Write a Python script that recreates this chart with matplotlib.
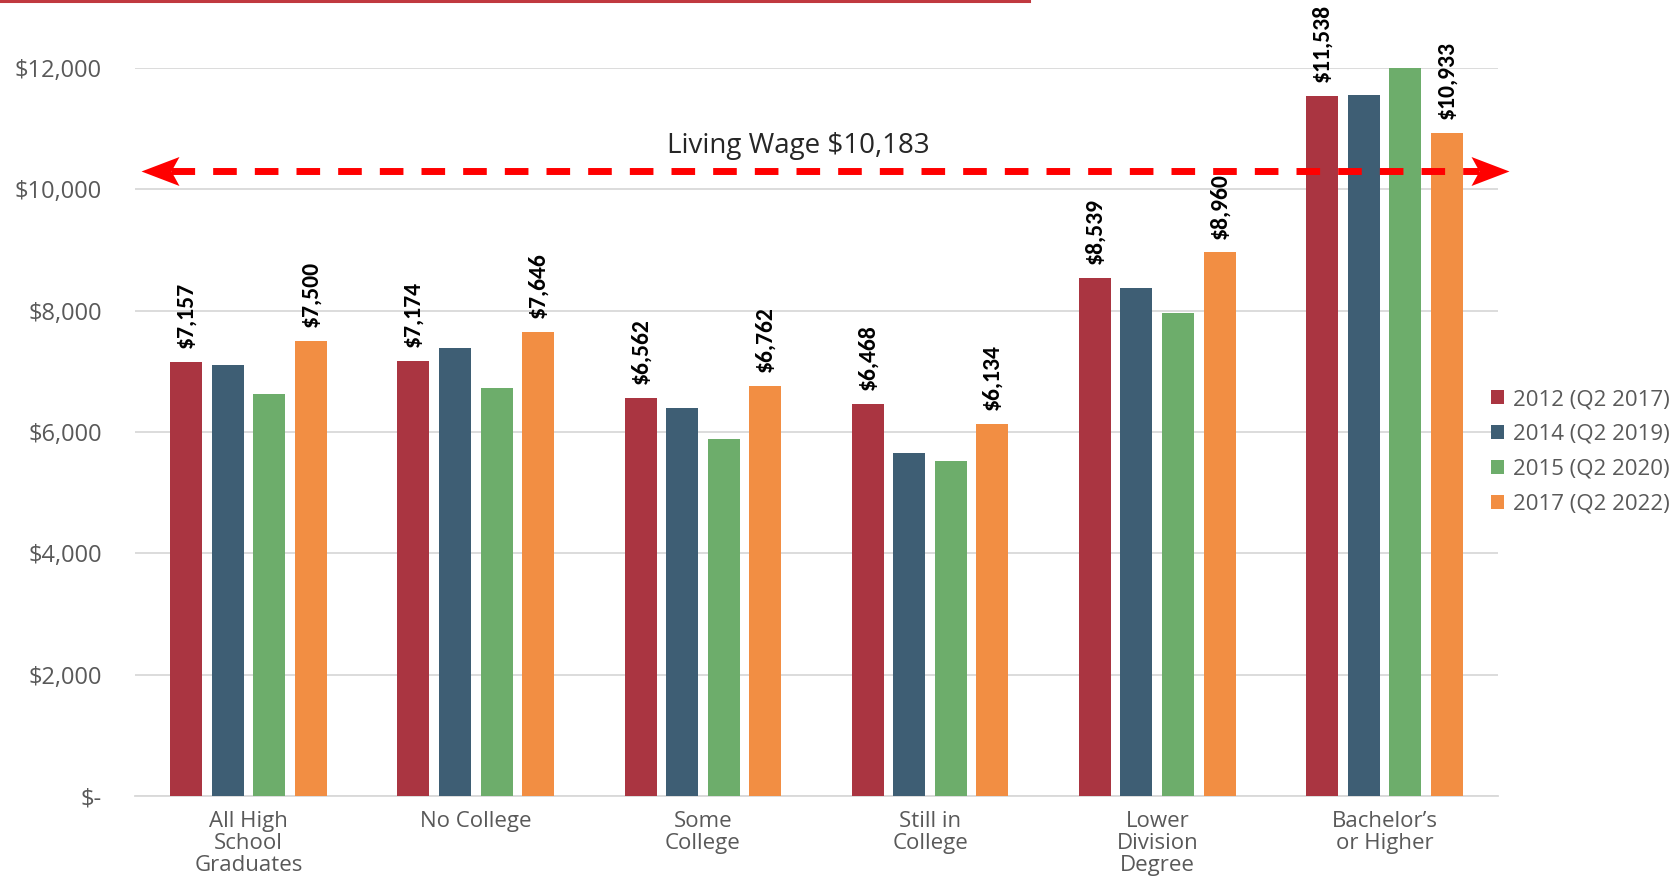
import matplotlib
matplotlib.use("Agg")
import matplotlib.pyplot as plt
from matplotlib.path import Path
import numpy as np

categories = ["All High\nSchool\nGraduates", "No College", "Some\nCollege",
              "Still in\nCollege", "Lower\nDivision\nDegree", "Bachelor\u2019s\nor Higher"]
series_names = ["2012 (Q2 2017)", "2014 (Q2 2019)", "2015 (Q2 2020)", "2017 (Q2 2022)"]
s2012 = [7157, 7174, 6562, 6468, 8539, 11538]
s2014 = [7110, 7390, 6400, 5650, 8375, 11560]
s2015 = [6630, 6720, 5880, 5525, 7970, 12000]
s2017 = [7500, 7646, 6762, 6134, 8960, 10933]
labeled = [True, False, False, True]
yticks = [0, 2000, 4000, 6000, 8000, 10000, 12000]
ytick_labels = ["$-", "$2,000", "$4,000", "$6,000", "$8,000", "$10,000", "$12,000"]
living_wage = 10183
living_wage_line = 10300
colors = ["#AA3541", "#3E5E74", "#6DAD6B", "#F28E43"]

series = [s2012, s2014, s2015, s2017]

label_font = ["Carlito", "Asap Condensed", "Archivo Narrow", "Open Sans"]
text_font = ["Open Sans", "DejaVu Sans"]
gray = "#595959"

fig = plt.figure(figsize=(16.73, 8.84), dpi=100)
ax = fig.add_axes([0.0807, 0.0995, 0.8147, 0.8235])

x = np.arange(len(categories))
width = 0.141
step = 0.183
for i, (vals, c) in enumerate(zip(series, colors)):
    pos = x + (i - 1.5) * step
    ax.bar(pos, vals, width, color=c, label=series_names[i], zorder=3, clip_on=False)
    if labeled[i]:
        for p, v in zip(pos, vals):
            ax.text(p, v + 230, f"${v:,}", rotation=90, ha="center", va="bottom",
                    fontsize=17, fontweight="bold", family=label_font, color="black")

ax.set_xlim(-0.5, 5.5)
ax.set_ylim(0, 12000)
ax.set_yticks(yticks)
ax.set_yticklabels(ytick_labels, family=text_font, fontsize=17, color=gray)
ax.set_xticks(x)
ax.set_xticklabels(categories, family=text_font, fontsize=16, color=gray, linespacing=1.05)
ax.tick_params(axis="both", length=0)
ax.tick_params(axis="y", pad=24)
ax.tick_params(axis="x", pad=11)
ax.grid(axis="y", color="#D9D9D9", linewidth=1.3, zorder=0)
for s in ["top", "right", "left"]:
    ax.spines[s].set_visible(False)
ax.spines["bottom"].set_color("#D9D9D9")
ax.spines["bottom"].set_linewidth(1.3)

# living wage double arrow (dashed shaft + stealth heads)
x_left, x_right = -0.475, 5.548
notch = 30 / 227.2
ax.plot([x_left + notch, x_right - notch], [living_wage_line, living_wage_line],
        color="#FF0000", linewidth=5, linestyle=(0, (3.4, 2.6)), solid_capstyle="butt",
        dash_capstyle="butt", zorder=5, clip_on=False)
stealth_r = Path([(0, 0), (-38, 14.5), (-30, 0), (-38, -14.5), (0, 0)],
                 [Path.MOVETO, Path.LINETO, Path.LINETO, Path.LINETO, Path.CLOSEPOLY])
stealth_l = Path([(0, 0), (38, 14.5), (30, 0), (38, -14.5), (0, 0)],
                 [Path.MOVETO, Path.LINETO, Path.LINETO, Path.LINETO, Path.CLOSEPOLY])
ax.plot([x_left], [living_wage_line], marker=stealth_l, color="#FF0000", markersize=54.7,
        markeredgewidth=0, zorder=6, clip_on=False, linestyle="none")
ax.plot([x_right], [living_wage_line], marker=stealth_r, color="#FF0000", markersize=54.7,
        markeredgewidth=0, zorder=6, clip_on=False, linestyle="none")
ax.text(2.42, living_wage_line + 420, f"Living Wage ${living_wage:,}", ha="center", va="center",
        family=text_font, fontsize=20, color="#262626")

# top red rule
fig.add_artist(plt.Line2D([0, 0.615], [0.999, 0.999], color="#C0393F", linewidth=2.2,
                          transform=fig.transFigure))

handles, labels = ax.get_legend_handles_labels()
fig.legend(handles, labels, loc="center left", bbox_to_anchor=(0.891, 0.489),
           frameon=False, prop={"family": text_font, "size": 16},
           labelcolor=gray, handlelength=0.6, handleheight=0.6,
           handletextpad=0.4, labelspacing=0.62, borderpad=0, borderaxespad=0)

fig.savefig("out.png", dpi=100)
